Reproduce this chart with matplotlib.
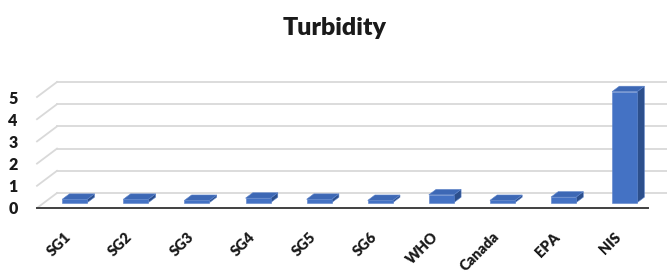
import matplotlib.pyplot as plt
from matplotlib.patches import Polygon
from matplotlib.lines import Line2D
from matplotlib.transforms import Affine2D, IdentityTransform

# данные
categories = ["SG1", "SG2", "SG3", "SG4", "SG5", "SG6", "WHO", "Canada", "EPA", "NIS"]
values = [0.15, 0.15, 0.1, 0.2, 0.15, 0.1, 0.35, 0.1, 0.25, 5.0]
yticks = [0, 1, 2, 3, 4, 5]

plt.rcParams['font.family'] = ['Lato', 'DejaVu Sans']

W, H = 667, 276
fig = plt.figure(figsize=(W / 100, H / 100), dpi=100)
ax = fig.add_axes([37 / W, 68 / H, 611 / W, 111 / H])
ax.set_xlim(-0.5, len(categories) - 0.5)
ax.set_ylim(0, 5)

# глубина "3D" (пиксели)
DX, DY = 20, 15
bf, bb = 0.36, 0.72  # передняя и задняя грань столбцов (доля глубины)
bw = 0.41

td = ax.transData
disp = IdentityTransform()
grid_c = "#d9d9d9"

# задние линии сетки и диагонали боковой стенки
for t in yticks:
    x0, y0 = td.transform((-0.5, t))
    x1, _ = td.transform((len(categories) - 0.5, t))
    fig.add_artist(Line2D([x0 + DX, x1 + DX + 2], [y0 + DY, y0 + DY],
                          transform=disp, color=grid_c, lw=1.3, zorder=1))
    fig.add_artist(Line2D([x0, x0 + DX], [y0, y0 + DY],
                          transform=disp, color=grid_c, lw=1.3, zorder=1))

# передняя линия пола
x0, y0 = td.transform((-0.5, 0))
x1, _ = td.transform((len(categories) - 0.5, 0))
fig.add_artist(Line2D([x0, x1], [y0, y0], transform=disp, color="#404040", lw=1.4, zorder=2))

front_c, top_c, side_c = "#4472c4", "#3d68b5", "#2c4f8c"
for i, v in enumerate(values):
    ox, oy = DX * bf, DY * bf
    sx, sy = DX * (bb - bf), DY * (bb - bf)
    (l, b) = td.transform((i - bw / 2, 0))
    (r, t) = td.transform((i + bw / 2, v))
    l, r, b, t = l + ox, r + ox, b + oy, t + oy
    front = [(l, b), (r, b), (r, t), (l, t)]
    top = [(l, t), (r, t), (r + sx, t + sy), (l + sx, t + sy)]
    side = [(r, b), (r + sx, b + sy), (r + sx, t + sy), (r, t)]
    for pts, c in [(side, side_c), (top, top_c), (front, front_c)]:
        fig.add_artist(Polygon(pts, closed=True, transform=disp, facecolor=c,
                               edgecolor="#5b82c9", lw=0.4, zorder=3))

# подписи категорий
for i, name in enumerate(categories):
    ax.text(i, 0, name, transform=td + Affine2D().translate(-3, -22),
            rotation=45, ha="right", va="top", rotation_mode="anchor",
            fontsize=10.5, fontweight="heavy", color="#1a1a1a")

ax.set_xticks([])
ax.set_yticks(yticks)
ax.set_yticklabels([str(t) for t in yticks], fontsize=11.5, fontweight="heavy", color="#1a1a1a")
ax.tick_params(axis="y", length=0, pad=14)
for s in ax.spines.values():
    s.set_visible(False)
ax.patch.set_visible(False)

fig.text(335 / W, 1 - 28 / H, "Turbidity", ha="center", va="center",
         fontsize=18, fontweight="heavy", color="#1a1a1a")

fig.savefig("out.png", dpi=100)
